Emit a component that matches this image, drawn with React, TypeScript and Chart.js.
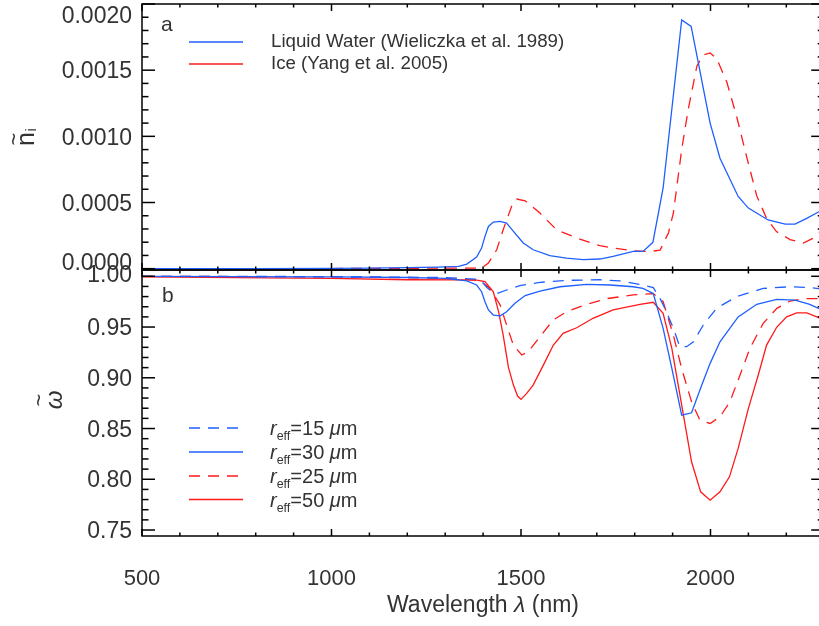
import React, { useEffect, useRef } from 'react';
import { Chart, registerables } from 'chart.js';

Chart.register(...registerables);

// ---------- data ----------
const X_MIN = 500;
const X_MAX = 2300;
const X_TICKS = [500, 1000, 1500, 2000];
const TOP_Y_TICKS = [0, 0.0005, 0.001, 0.0015, 0.002];
const TOP_Y_LABELS = ['0.0000', '0.0005', '0.0010', '0.0015', '0.0020'];
const BOT_Y_TICKS = [0.75, 0.8, 0.85, 0.9, 0.95, 1.0];
const BOT_Y_LABELS = ['0.75', '0.80', '0.85', '0.90', '0.95', '1.00'];

// imaginary refractive index, liquid water
const WATER_NI_WL = [500, 800, 1000, 1100, 1200, 1280, 1335, 1357, 1383, 1396, 1405, 1414, 1427, 1445, 1462, 1480, 1506, 1532, 1576, 1620, 1664, 1708, 1743, 1796, 1822, 1848, 1875, 1924, 1949, 1999, 2025, 2073, 2100, 2152, 2197, 2223, 2254, 2286, 2300];
const WATER_NI = [0, 0.000001, 0.000002, 0.000004, 0.000008, 0.000012, 0.000018, 0.000035, 0.000088, 0.000156, 0.000244, 0.000319, 0.000352, 0.000357, 0.000345, 0.000282, 0.000194, 0.000143, 0.000098, 0.00008, 0.000068, 0.000073, 0.000093, 0.00013, 0.00013, 0.000199, 0.00061, 0.00188, 0.00183, 0.0011, 0.000835, 0.000546, 0.000458, 0.000368, 0.000337, 0.000337, 0.00038, 0.00043, 0.00045];

// imaginary refractive index, ice
const ICE_NI_WL = [500, 1000, 1200, 1380, 1400, 1414, 1436, 1453, 1475, 1489, 1511, 1550, 1594, 1647, 1708, 1743, 1800, 1840, 1867, 1889, 1902, 1924, 1941, 1964, 1981, 1999, 2016, 2043, 2069, 2095, 2122, 2148, 2174, 2210, 2245, 2271, 2286, 2300];
const ICE_NI = [0, 0.000001, 0.000003, 0.000005, 0.000012, 0.000043, 0.000143, 0.000294, 0.00047, 0.000526, 0.000513, 0.00042, 0.000294, 0.000232, 0.000174, 0.000156, 0.000135, 0.00013, 0.00014, 0.00027, 0.00042, 0.0009, 0.0012, 0.00153, 0.001615, 0.00163, 0.00159, 0.00141, 0.00115, 0.00085, 0.00055, 0.00038, 0.00028, 0.00022, 0.000194, 0.00023, 0.00027, 0.00029];

// single scattering albedo, water r_eff = 15 um
const W15_WL = [500, 1000, 1300, 1392, 1410, 1418, 1436, 1462, 1497, 1550, 1620, 1708, 1760, 1814, 1849, 1867, 1884, 1902, 1919, 1937, 1955, 1981, 2016, 2069, 2139, 2210, 2260, 2300];
const W15 = [1.0, 0.9997, 0.9988, 0.997, 0.989, 0.9865, 0.983, 0.9865, 0.9907, 0.994, 0.996, 0.9966, 0.9955, 0.992, 0.9888, 0.978, 0.965, 0.9487, 0.9306, 0.9306, 0.9355, 0.952, 0.9684, 0.98, 0.988, 0.9897, 0.989, 0.987];

// water r_eff = 30 um
const W30_WL = [500, 1000, 1200, 1300, 1357, 1383, 1396, 1405, 1414, 1427, 1445, 1462, 1484, 1511, 1550, 1603, 1673, 1735, 1796, 1822, 1849, 1875, 1898, 1924, 1950, 1977, 1999, 2025, 2073, 2122, 2175, 2223, 2260, 2300];
const W30 = [0.9999, 0.9995, 0.9988, 0.998, 0.9954, 0.9914, 0.9848, 0.975, 0.9668, 0.9618, 0.961, 0.965, 0.9734, 0.981, 0.9855, 0.9897, 0.992, 0.9914, 0.9897, 0.988, 0.983, 0.9487, 0.9093, 0.8632, 0.8655, 0.8928, 0.9142, 0.9355, 0.96, 0.9724, 0.9773, 0.9766, 0.9725, 0.966];

// ice r_eff = 25 um
const I25_WL = [500, 1000, 1300, 1392, 1418, 1445, 1462, 1480, 1502, 1519, 1550, 1585, 1620, 1673, 1726, 1796, 1849, 1875, 1902, 1924, 1950, 1972, 1999, 2025, 2051, 2078, 2104, 2139, 2175, 2210, 2250, 2300];
const I25 = [1.0, 0.9995, 0.998, 0.9957, 0.988, 0.9717, 0.952, 0.932, 0.9224, 0.9256, 0.9404, 0.957, 0.965, 0.9724, 0.978, 0.9816, 0.983, 0.975, 0.942, 0.909, 0.8763, 0.8583, 0.855, 0.8615, 0.8763, 0.9027, 0.929, 0.9536, 0.9684, 0.9756, 0.978, 0.978];

// ice r_eff = 50 um
const I50_WL = [500, 1000, 1200, 1380, 1405, 1427, 1441, 1453, 1467, 1480, 1491, 1500, 1515, 1532, 1559, 1585, 1611, 1647, 1690, 1743, 1814, 1849, 1875, 1898, 1924, 1950, 1974, 1999, 2025, 2050, 2073, 2100, 2126, 2148, 2175, 2201, 2227, 2254, 2300];
const I50 = [0.9995, 0.998, 0.9966, 0.9964, 0.9947, 0.9848, 0.965, 0.942, 0.91, 0.8928, 0.882, 0.8787, 0.8846, 0.8928, 0.9125, 0.932, 0.9438, 0.9493, 0.9586, 0.9668, 0.9724, 0.9744, 0.9635, 0.929, 0.873, 0.8172, 0.7876, 0.7794, 0.7876, 0.8024, 0.8304, 0.8698, 0.9027, 0.9322, 0.95, 0.96, 0.964, 0.964, 0.957];

const TOP_LEGEND = ['Liquid Water (Wieliczka et al. 1989)', 'Ice (Yang et al. 2005)'];
const BOT_LEGEND = ['15', '30', '25', '50'];

// ---------- styles ----------
const BLUE = 'rgb(30,95,255)';
const RED = 'rgb(255,25,25)';
const DASH = [11, 8];
const LW = 1.3;
const FONT = '"Liberation Sans", Arial, Helvetica, sans-serif';
const TEXT = '#333333';

const pts = (xs: number[], ys: number[]) => xs.map((x, i) => ({ x, y: ys[i] }));

const framePlugin = {
  id: 'frame',
  afterDraw(chart: any) {
    const ctx: CanvasRenderingContext2D = chart.ctx;
    const xs = chart.scales.x;
    const yt = chart.scales.yTop;
    const yb = chart.scales.yBot;
    const L = xs.left;
    const R = xs.right;
    ctx.save();
    ctx.setLineDash([]);
    ctx.strokeStyle = '#000';
    ctx.lineWidth = 1.5;
    const seg = (x1: number, y1: number, x2: number, y2: number) => {
      ctx.beginPath();
      ctx.moveTo(x1, y1);
      ctx.lineTo(x2, y2);
      ctx.stroke();
    };
    [yt, yb].forEach((s: any) => ctx.strokeRect(L, s.top, R - L, s.bottom - s.top));
    // x ticks
    [yt, yb].forEach((s: any) => {
      for (let i = 0; i <= (X_MAX - X_MIN) / 100; i++) {
        const v = X_MIN + i * 100;
        const px = xs.getPixelForValue(v);
        const len = v % 500 === 0 ? 7 : 3.5;
        seg(px, s.top, px, s.top + len);
        seg(px, s.bottom, px, s.bottom - len);
      }
    });
    // y ticks
    for (let i = 0; i <= 20; i++) {
      const py = yt.getPixelForValue(i * 0.0001);
      const len = i % 5 === 0 ? 13 : 6.5;
      seg(L, py, L + len, py);
      seg(R, py, R - len, py);
    }
    for (let i = 0; i <= 25; i++) {
      const py = yb.getPixelForValue(0.75 + i * 0.01);
      const len = i % 5 === 0 ? 13 : 6.5;
      seg(L, py, L + len, py);
      seg(R, py, R - len, py);
    }
    // tick labels
    ctx.fillStyle = TEXT;
    ctx.font = `23px ${FONT}`;
    ctx.textAlign = 'right';
    ctx.textBaseline = 'alphabetic';
    TOP_Y_TICKS.forEach((v, i) => {
      let py = yt.getPixelForValue(v);
      py = Math.min(Math.max(py, yt.top + 11), yt.bottom - 8);
      ctx.fillText(TOP_Y_LABELS[i], L - 10, py + 8.2);
    });
    BOT_Y_TICKS.forEach((v, i) => {
      let py = yb.getPixelForValue(v);
      py = Math.max(py - (v >= 1 ? 2.5 : 0), yb.top + 3);
      ctx.fillText(BOT_Y_LABELS[i], L - 10, py + 8.2);
    });
    ctx.textAlign = 'center';
    ctx.font = `22px ${FONT}`;
    X_TICKS.forEach((v) => {
      ctx.fillText(String(v), xs.getPixelForValue(v), 585);
    });
    // x title
    const cx = 483;
    const parts: [string, string][] = [
      ['Wavelength ', `23px ${FONT}`],
      ['\u03bb', `italic 23px ${FONT}`],
      [' (nm)', `23px ${FONT}`],
    ];
    let tw = 0;
    parts.forEach(([t, f]) => { ctx.font = f; tw += ctx.measureText(t).width; });
    let tx = cx - tw / 2;
    ctx.textAlign = 'left';
    parts.forEach(([t, f]) => { ctx.font = f; ctx.fillText(t, tx, 612); tx += ctx.measureText(t).width; });

    // y titles (rotated)
    ctx.save();
    ctx.translate(27, 139);
    ctx.rotate(-Math.PI / 2);
    ctx.textAlign = 'center';
    ctx.font = `25px ${FONT}`;
    ctx.fillText('n', 0, 6.5);
    ctx.font = `22px ${FONT}`;
    ctx.textBaseline = 'middle';
    ctx.fillText('~', 0, -12);
    ctx.textBaseline = 'alphabetic';
    ctx.font = `14px ${FONT}`;
    ctx.textAlign = 'left';
    ctx.fillText('i', 7.5, 9);
    ctx.restore();

    ctx.save();
    ctx.translate(56, 400);
    ctx.rotate(-Math.PI / 2);
    ctx.textAlign = 'center';
    ctx.font = `italic 24px ${FONT}`;
    ctx.fillText('\u03c9', 0, 6);
    ctx.font = `22px ${FONT}`;
    ctx.textBaseline = 'middle';
    ctx.fillText('~', 0, -16);
    ctx.restore();

    // panel letters
    ctx.textAlign = 'left';
    ctx.textBaseline = 'alphabetic';
    ctx.font = `21px ${FONT}`;
    ctx.fillText('a', 161, 31);
    ctx.fillText('b', 162, 302);

    // top legend
    const legLine = (y: number, color: string, dashed: boolean) => {
      ctx.strokeStyle = color;
      ctx.lineWidth = LW;
      ctx.setLineDash(dashed ? DASH : []);
      seg(189, y, 243, y);
      ctx.setLineDash([]);
    };
    legLine(42, BLUE, false);
    legLine(64, RED, false);
    ctx.fillStyle = TEXT;
    ctx.font = `18.7px ${FONT}`;
    ctx.textBaseline = 'middle';
    ctx.fillText(TOP_LEGEND[0], 271, 42);
    ctx.fillText(TOP_LEGEND[1], 271, 64);

    // bottom legend
    const ys = [428, 452, 476, 499.5];
    const styles: [string, boolean][] = [[BLUE, true], [BLUE, false], [RED, true], [RED, false]];
    ys.forEach((y, i) => {
      legLine(y, styles[i][0], styles[i][1]);
      ctx.fillStyle = TEXT;
      ctx.textBaseline = 'alphabetic';
      const base = y + 7;
      let x = 270;
      const put = (t: string, f: string, dy = 0) => { ctx.font = f; ctx.fillText(t, x, base + dy); x += ctx.measureText(t).width; };
      put('r', `italic 20px ${FONT}`);
      put('eff', `12.5px ${FONT}`, 5);
      put('=' + BOT_LEGEND[i] + ' ', `20px ${FONT}`);
      put('\u03bc', `italic 20px ${FONT}`);
      put('m', `20px ${FONT}`);
    });
    ctx.restore();
  },
};

export default function App() {
  const ref = useRef<HTMLCanvasElement | null>(null);
  useEffect(() => {
    if (!ref.current) return;
    const line = (data: any, color: string, dashed: boolean, axis: string) => ({
      data,
      yAxisID: axis,
      borderColor: color,
      borderWidth: LW,
      borderDash: dashed ? DASH : [],
      pointRadius: 0,
      tension: 0,
      fill: false,
    });
    const chart = new Chart(ref.current, {
      type: 'line',
      data: {
        datasets: [
          line(pts(WATER_NI_WL, WATER_NI), BLUE, false, 'yTop'),
          line(pts(ICE_NI_WL, ICE_NI), RED, true, 'yTop'),
          line(pts(W15_WL, W15), BLUE, true, 'yBot'),
          line(pts(W30_WL, W30), BLUE, false, 'yBot'),
          line(pts(I25_WL, I25), RED, true, 'yBot'),
          line(pts(I50_WL, I50), RED, false, 'yBot'),
        ] as any,
      },
      options: {
        responsive: false,
        animation: false,
        devicePixelRatio: 1,
        layout: { padding: { top: 4, right: 5.8, left: 0, bottom: 0 } },
        plugins: { legend: { display: false }, tooltip: { enabled: false } },
        scales: {
          x: {
            type: 'linear',
            min: X_MIN,
            max: X_MAX,
            grid: { display: false, drawTicks: false },
            border: { display: false },
            ticks: { display: false },
            afterFit: (s: any) => { s.height = 90; },
          },
          yBot: {
            type: 'linear',
            position: 'left',
            stack: 'panels',
            stackWeight: 1,
            min: 0.7441,
            max: 1.0062,
            grid: { display: false, drawTicks: false },
            border: { display: false },
            ticks: { display: false },
            afterFit: (s: any) => { s.width = 142; },
          },
          yTop: {
            type: 'linear',
            position: 'left',
            stack: 'panels',
            stackWeight: 1,
            min: -0.00001,
            max: 0.002,
            grid: { display: false, drawTicks: false },
            border: { display: false },
            ticks: { display: false },
            afterFit: (s: any) => { s.width = 142; },
          },
        } as any,
      },
      plugins: [framePlugin],
    });
    return () => chart.destroy();
  }, []);
  return (
    <div style={{ position: 'absolute', left: 0, top: 0, width: 819, height: 626, overflow: 'hidden', background: '#fff' }}>
      <canvas ref={ref} width={830} height={626} style={{ width: 830, height: 626, display: 'block' }} />
    </div>
  );
}
